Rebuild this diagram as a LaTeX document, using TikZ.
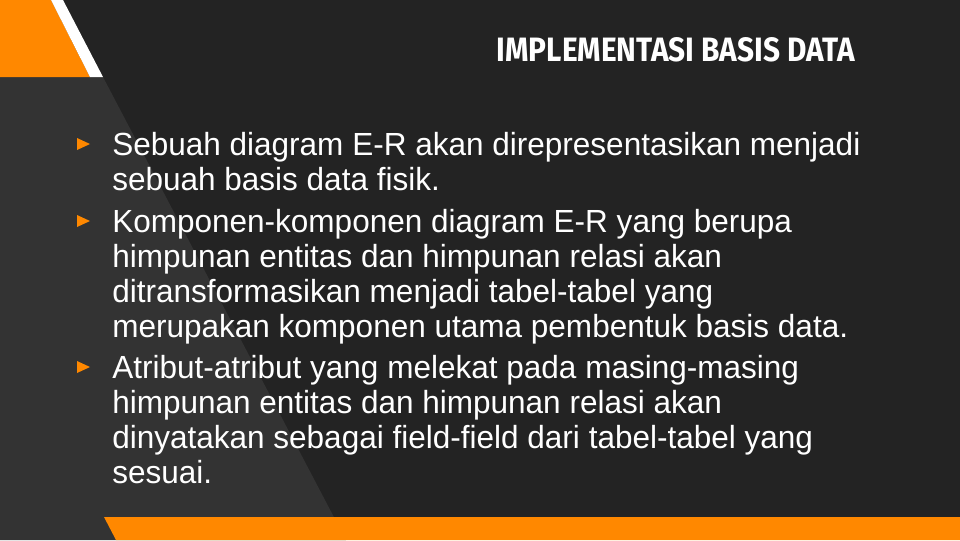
\documentclass[tikz,border=0pt]{standalone}
\usepackage{fontspec}
\setmainfont[FakeStretch=0.985]{Liberation Sans}
\newfontfamily\titlefont{Fira Sans}
\begin{document}
\begin{tikzpicture}[x=0.75pt,y=-0.75pt]
	\tikzstyle{para} = [anchor=north west,inner sep=0,text=white,align=left,font=\fontsize{24}{26.25}\selectfont]
	\tikzstyle{bullet} = [fill=slideorange]
	\tikzstyle{title} = [anchor=south east,inner sep=0,text=white]

	\def\slope{0.524}
	\definecolor{slidedark}{HTML}{232323}
	\definecolor{slidegray}{HTML}{333333}
	\definecolor{slideorange}{HTML}{FF8800}

	% BACKGROUND %
	\useasboundingbox (0,0) rectangle (960,540);
	\fill[slidedark] (0,0) rectangle (960,540);
	\fill[slidegray] (0,77) -- (103,77) -- (63+\slope*540,540) -- (0,540) -- cycle;
	\fill[slideorange] (0,0) -- (51,0) -- (90,77) -- (0,77) -- cycle;
	\fill[white] (51,0) -- (63,0) -- (103,77) -- (90,77) -- cycle;
	\fill[slideorange] (104,517) -- (960,517) -- (960,540) -- (116,540) -- cycle;

	% TITLE %
	\node[title] (title) at (855,62) {\resizebox{268.5pt}{18pt}{\titlefont\bfseries IMPLEMENTASI BASIS DATA}};

	% BULLETS %
	\foreach \by in {144,221,367}
		\fill[bullet] (77,\by-6) -- (90,\by) -- (77,\by+6) -- cycle;

	% TEXT %
	\node[para] (p1) at (112,132) {Sebuah diagram E-R akan direpresentasikan menjadi\\sebuah basis data fisik.};
	\node[para] (p2) at (112,209) {Komponen-komponen diagram E-R yang berupa\\himpunan entitas dan himpunan relasi akan\\ditransformasikan menjadi tabel-tabel yang\\merupakan komponen utama pembentuk basis data.};
	\node[para] (p3) at (112,355) {Atribut-atribut yang melekat pada masing-masing\\himpunan entitas dan himpunan relasi akan\\dinyatakan sebagai field-field dari tabel-tabel yang\\sesuai.};
\end{tikzpicture}
\end{document}
